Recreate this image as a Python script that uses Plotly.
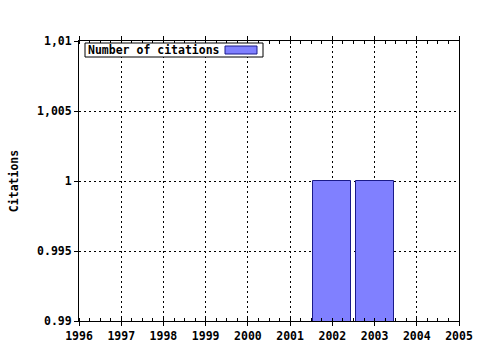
import plotly.graph_objects as go

years = [2002, 2003]
citations = [1, 1]
series_name = "Number of citations"
x_ticks = [1996, 1997, 1998, 1999, 2000, 2001, 2002, 2003, 2004, 2005]
y_ticks = [0.99, 0.995, 1.0, 1.005, 1.01]
y_tick_labels = ["0.99", "0.995", "1", "1,005", "1,01"]

FONT = dict(family="DejaVu Sans Mono", size=11.5, color="black", weight="bold")

L, R, T, B = 79, 459, 41, 321
PW, PH = R - L, B - T

fig = go.Figure()
fig.add_trace(go.Bar(
    x=years, y=citations, width=0.9, name=series_name,
    marker=dict(color="#8080FF", line=dict(color="#1a1a8a", width=1)),
    showlegend=False,
))

fig.update_layout(
    width=480, height=350,
    margin=dict(l=L, r=480 - R, t=T, b=350 - B, autoexpand=False),
    paper_bgcolor="white", plot_bgcolor="white",
    font=FONT,
    bargap=0,
)
fig.update_xaxes(
    range=[1996, 2005], tickvals=x_ticks, ticktext=[str(v) for v in x_ticks],
    showline=True, linecolor="black", linewidth=1, mirror="allticks",
    ticks="outside", ticklen=4, tickcolor="black",
    showgrid=True, gridcolor="black", griddash="2px,3px", gridwidth=1,
    minor=dict(ticks="inside", ticklen=3, dtick=0.25, tickcolor="black", showgrid=False),
    tickfont=FONT, zeroline=False, automargin=False,
)
fig.update_yaxes(
    range=[0.99, 1.01], tickvals=y_ticks, ticktext=y_tick_labels,
    showline=True, linecolor="black", linewidth=1, mirror=True,
    ticks="outside", ticklen=4, tickcolor="black",
    showgrid=True, gridcolor="black", griddash="2px,3px", gridwidth=1,
    tickfont=FONT, zeroline=False, automargin=False,
    title=dict(text="Citations", font=FONT, standoff=16),
)

def px_x(v):
    return (v - L) / PW

def px_y(v):
    return (B - v) / PH

# legend box (decoration)
fig.add_shape(
    type="rect", xref="paper", yref="paper",
    x0=px_x(85), x1=px_x(263), y0=px_y(57), y1=px_y(43),
    fillcolor="white", line=dict(color="black", width=1),
)
fig.add_shape(
    type="rect", xref="paper", yref="paper",
    x0=px_x(225), x1=px_x(257), y0=px_y(54), y1=px_y(46),
    fillcolor="#8080FF", line=dict(color="#1a1a8a", width=1),
)
fig.add_annotation(
    xref="paper", yref="paper", x=px_x(86), y=px_y(50), xanchor="left", yanchor="middle",
    text=series_name, showarrow=False, align="left", font=FONT,
)

fig.write_html("out.html")
